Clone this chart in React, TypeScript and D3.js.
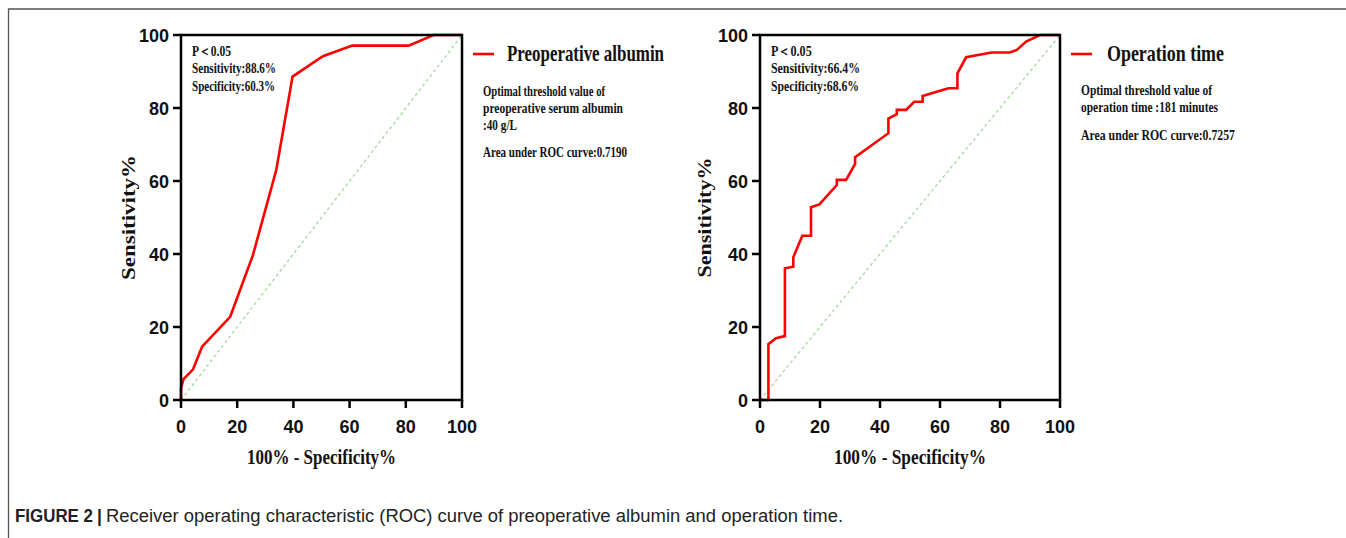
import React from "react";
import * as d3 from "d3";

const W = 1346;
const H = 538;

// ROC curve 1: preoperative albumin (x = 100 - specificity %, y = sensitivity %)
const albuminFpr = [0, 0, 0.9, 4.3, 7.5, 17.5, 25.6, 33.9, 39.7, 50.5, 60.9, 81.0, 89.9, 100];
const albuminSens = [0, 3.3, 5.7, 8.4, 14.6, 22.8, 39.7, 63.0, 88.6, 94.2, 97.1, 97.1, 100, 100];

// ROC curve 2: operation time
const opFpr = [0, 2.8, 2.8, 5.3, 8.3, 8.3, 11.1, 11.1, 14.1, 17.0, 17.0, 19.8, 25.6, 25.6, 28.7, 31.7, 31.7, 42.8, 42.8, 45.6, 45.6, 48.7, 51.4, 54.2, 54.2, 62.8, 65.8, 65.8, 68.7, 77.2, 83.3, 85.6, 88.7, 93.3, 100];
const opSens = [0, 0, 15.3, 16.9, 17.5, 36.1, 36.5, 39.1, 45.0, 45.0, 52.8, 53.6, 58.9, 60.3, 60.3, 64.7, 66.5, 73.1, 77.1, 78.3, 79.5, 79.5, 81.7, 81.7, 83.3, 85.4, 85.4, 89.5, 93.9, 95.2, 95.2, 95.9, 98.2, 100, 100];

const tickValues = [0, 20, 40, 60, 80, 100];
const xAxisTitle = "100% - Specificity%";
const yAxisTitle = "Sensitivity%";

const panel1Stats = ["P\uFF1C0.05", "Sensitivity:88.6%", "Specificity:60.3%"];
const panel2Stats = ["P\uFF1C0.05", "Sensitivity:66.4%", "Specificity:68.6%"];
const panel1Legend = "Preoperative albumin";
const panel2Legend = "Operation time";
const panel1Notes = ["Optimal threshold value of", "preoperative serum albumin", ":40 g/L", "Area under ROC curve:0.7190"];
const panel2Notes = ["Optimal threshold value of", "operation time :181 minutes", "Area under ROC curve:0.7257"];
const captionBold = "FIGURE 2";
const captionText = "Receiver operating characteristic (ROC) curve of preoperative albumin and operation time.";

const SERIF = "'Liberation Serif', 'Times New Roman', serif";
const NARROW = "'Liberation Sans Narrow', 'Arial Narrow', 'Liberation Sans', Arial, sans-serif";
const SANS = "'Liberation Sans Narrow', 'Liberation Sans', Arial, Helvetica, sans-serif";

type PanelProps = {
  x0: number;
  x1: number;
  fpr: number[];
  sens: number[];
  stats: string[];
  statWidths: number[];
  legend: string;
  legendWidth: number;
  notes: string[];
  noteWidths: number[];
  noteYs: number[];
  xTitleWidth: number;
  yTitleWidth: number;
  yTitleX: number;
};

function Panel(p: PanelProps) {
  const y0 = 400;
  const y1 = 35;
  const x = d3.scaleLinear().domain([0, 100]).range([p.x0, p.x1]);
  const y = d3.scaleLinear().domain([0, 100]).range([y0, y1]);
  const pts: [number, number][] = p.fpr.map((v, i) => [v, p.sens[i]]);
  const line = d3
    .line<[number, number]>()
    .x((d) => x(d[0]))
    .y((d) => y(d[1]));
  const midX = (p.x0 + p.x1) / 2;
  const midY = (y0 + y1) / 2;
  return (
    <g>
      <path
        d={line([[0, 0], [100, 100]]) || ""}
        stroke="#9fd89a"
        strokeWidth={1.3}
        strokeDasharray="3,3"
        fill="none"
      />
      <path d={line(pts) || ""} stroke="#ff0000" strokeWidth={2.6} fill="none" strokeLinejoin="miter" />
      <rect x={x(0)} y={y(100)} width={x(100) - x(0)} height={y(0) - y(100)} fill="none" stroke="#000" strokeWidth={2.5} />
      {tickValues.map((t) => (
        <g key={"x" + t}>
          <line x1={x(t)} x2={x(t)} y1={y0} y2={y0 + 8} stroke="#000" strokeWidth={2.5} />
          <text x={x(t)} y={433} textAnchor="middle" fontFamily={NARROW} fontWeight="bold" fontSize={18} fill="#111">
            {t}
          </text>
        </g>
      ))}
      {tickValues.map((t) => (
        <g key={"y" + t}>
          <line x1={p.x0 - 8} x2={p.x0} y1={y(t)} y2={y(t)} stroke="#000" strokeWidth={2.5} />
          <text x={p.x0 - 12} y={y(t) + 6.5} textAnchor="end" fontFamily={NARROW} fontWeight="bold" fontSize={18} fill="#111">
            {t}
          </text>
        </g>
      ))}
      <text
        x={midX - p.xTitleWidth / 2}
        y={464}
        fontFamily={SERIF}
        fontWeight="bold"
        fontSize={20}
        textLength={p.xTitleWidth}
        lengthAdjust="spacingAndGlyphs"
        fill="#111"
      >
        {xAxisTitle}
      </text>
      <text
        transform={`translate(${p.yTitleX},${midY + p.yTitleWidth / 2}) rotate(-90)`}
        fontFamily={SERIF}
        fontWeight="bold"
        fontSize={19}
        textLength={p.yTitleWidth}
        lengthAdjust="spacingAndGlyphs"
        fill="#111"
      >
        {yAxisTitle}
      </text>
      {p.stats.map((s, i) => (
        <text
          key={s}
          x={p.x0 + 11}
          y={56 + i * 17.4}
          fontFamily={SERIF}
          fontWeight="bold"
          fontSize={15}
          textLength={p.statWidths[i]}
          lengthAdjust="spacingAndGlyphs"
          fill="#111"
        >
          {s}
        </text>
      ))}
      <line x1={p.x1 + 11} x2={p.x1 + 32} y1={54} y2={54} stroke="#ff0000" strokeWidth={2.6} />
      <text
        x={p.x1 + 45 + (p.legendWidth < 130 ? 2 : 0)}
        y={61}
        fontFamily={SERIF}
        fontWeight="bold"
        fontSize={22.5}
        textLength={p.legendWidth}
        lengthAdjust="spacingAndGlyphs"
        fill="#111"
      >
        {p.legend}
      </text>
      {p.notes.map((s, i) => (
        <text
          key={s}
          x={p.x1 + 21}
          y={p.noteYs[i]}
          fontFamily={SERIF}
          fontWeight="bold"
          fontSize={14.5}
          textLength={p.noteWidths[i]}
          lengthAdjust="spacingAndGlyphs"
          fill="#111"
        >
          {s}
        </text>
      ))}
    </g>
  );
}

export default function App() {
  return (
    <svg width={W} height={H} style={{ position: "absolute", left: 0, top: 0, background: "#fff" }}>
      <rect x={0} y={0} width={W} height={H} fill="#fff" />
      <path d={`M${W},9 H8.5 V${H}`} fill="none" stroke="#555" strokeWidth={1.3} />
      <Panel
        x0={181}
        x1={462}
        fpr={albuminFpr}
        sens={albuminSens}
        stats={panel1Stats}
        statWidths={[39, 84, 83]}
        legend={panel1Legend}
        legendWidth={157}
        notes={panel1Notes}
        noteWidths={[122, 140, 34, 144]}
        noteYs={[96, 113, 129.5, 157]}
        xTitleWidth={149}
        yTitleWidth={125}
        yTitleX={135}
      />
      <Panel
        x0={760}
        x1={1060}
        fpr={opFpr}
        sens={opSens}
        stats={panel2Stats}
        statWidths={[40.7, 89, 88]}
        legend={panel2Legend}
        legendWidth={117}
        notes={panel2Notes}
        noteWidths={[131, 137, 154]}
        noteYs={[95, 112, 140]}
        xTitleWidth={152}
        yTitleWidth={120}
        yTitleX={711}
      />
      <text x={15} y={522} fontFamily={SANS} fontWeight="bold" fontSize={17.5} fill="#222" textLength={78} lengthAdjust="spacingAndGlyphs">
        {captionBold}
      </text>
      <text x={97} y={522} fontFamily={SANS} fontWeight="bold" fontSize={17.5} fill="#222">
        |
      </text>
      <text x={106} y={522} fontFamily={SANS} fontSize={17.5} fill="#222" textLength={737} lengthAdjust="spacingAndGlyphs">
        {captionText}
      </text>
    </svg>
  );
}
